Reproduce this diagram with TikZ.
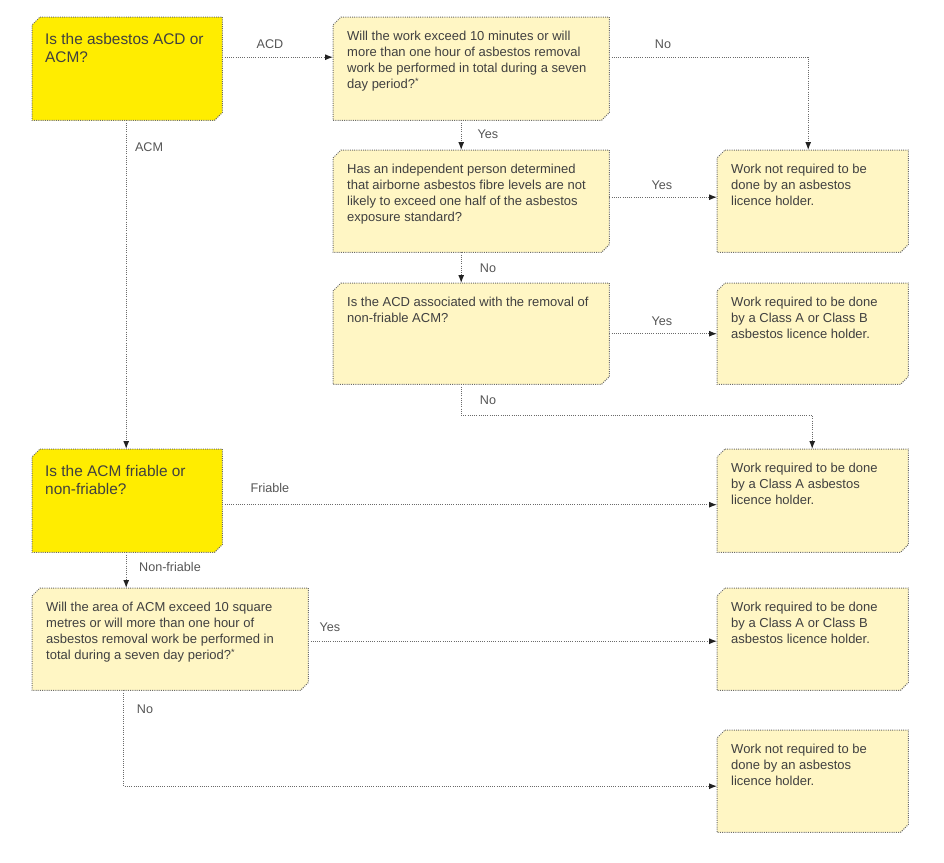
\documentclass[tikz,border=0pt]{standalone}
\usepackage{fontspec}
\setmainfont{Liberation Sans}
\usetikzlibrary{arrows.meta}
\definecolor{ybright}{HTML}{FFED00}
\definecolor{ypale}{HTML}{FFF6C4}
\definecolor{bord}{HTML}{6A6A6A}
\definecolor{txt}{HTML}{404040}
\definecolor{lbl}{HTML}{555555}
\definecolor{tipc}{HTML}{222222}
\newcommand\chbox[2]{%
  \path[boxline, fill=#2] ([xshift=8pt]#1.north west) -- (#1.north east)
    -- ([yshift=8pt]#1.south east) -- ([xshift=-8pt]#1.south east)
    -- (#1.south west) -- ([yshift=-8pt]#1.north west) -- cycle;}
\begin{document}
\begin{tikzpicture}[x=1pt,y=-1pt,
  cbox/.style={rectangle, inner sep=0pt, anchor=north west},
  boxline/.style={draw=bord, line width=1pt, dash pattern=on 1pt off 1.2pt},
  qtext/.style={anchor=base west, inner sep=0pt, text=txt, font=\fontsize{13}{16.2}\selectfont},
  htext/.style={anchor=base west, inner sep=0pt, text=txt, font=\fontsize{15.4}{18.5}\selectfont},
  lab/.style={inner sep=0pt, text=lbl, font=\fontsize{12.6}{15}\selectfont},
  conn/.style={draw=bord, line width=1pt, dash pattern=on 1pt off 1.2pt,
    -{Latex[length=8pt,width=6pt,color=tipc]}}
]
\useasboundingbox (0,0) rectangle (944,862);

% box frames (anchors)
\node[cbox, minimum width=190pt, minimum height=103pt] (b1) at (32,17) {};
\node[cbox, minimum width=276pt, minimum height=103pt] (b2) at (333,17) {};
\node[cbox, minimum width=276pt, minimum height=102pt] (b3) at (333,150) {};
\node[cbox, minimum width=276pt, minimum height=101pt] (b4) at (333,283) {};
\node[cbox, minimum width=191pt, minimum height=102pt] (b5) at (717,150) {};
\node[cbox, minimum width=191pt, minimum height=101pt] (b6) at (717,283) {};
\node[cbox, minimum width=191pt, minimum height=103pt] (b7) at (717,449) {};
\node[cbox, minimum width=190pt, minimum height=103pt] (b8) at (32,449) {};
\node[cbox, minimum width=276pt, minimum height=102pt] (b9) at (32,588) {};
\node[cbox, minimum width=191pt, minimum height=102pt] (b10) at (717,588) {};
\node[cbox, minimum width=191pt, minimum height=102pt] (b11) at (717,730) {};

% chamfered boxes
\chbox{b1}{ybright}
\chbox{b2}{ypale}
\chbox{b3}{ypale}
\chbox{b4}{ypale}
\chbox{b5}{ypale}
\chbox{b6}{ypale}
\chbox{b7}{ypale}
\chbox{b8}{ybright}
\chbox{b9}{ypale}
\chbox{b10}{ypale}
\chbox{b11}{ypale}

% texts
\node[htext] (t1) at ([shift={(13,27)}]b1.north west) {\parbox[t]{180pt}{\raggedright Is the asbestos ACD or\\ACM?}};
\node[qtext] (t2) at ([shift={(14,23)}]b2.north west) {\parbox[t]{270pt}{\raggedright Will the work exceed 10 minutes or will\\more than one hour of asbestos removal\\work be performed in total during a seven\\day period?\textsuperscript{*}}};
\node[qtext] (t3) at ([shift={(14,23)}]b3.north west) {\parbox[t]{270pt}{\raggedright Has an independent person determined\\that airborne asbestos fibre levels are not\\likely to exceed one half of the asbestos\\exposure standard?}};
\node[qtext] (t4) at ([shift={(14,23)}]b4.north west) {\parbox[t]{270pt}{\raggedright Is the ACD associated with the removal of\\non-friable ACM?}};
\node[qtext] (t5) at ([shift={(14,23)}]b5.north west) {\parbox[t]{185pt}{\raggedright Work not required to be\\done by an asbestos\\licence holder.}};
\node[qtext] (t6) at ([shift={(14,23)}]b6.north west) {\parbox[t]{185pt}{\raggedright Work required to be done\\by a Class A or Class B\\asbestos licence holder.}};
\node[qtext] (t7) at ([shift={(14,23)}]b7.north west) {\parbox[t]{185pt}{\raggedright Work required to be done\\by a Class A asbestos\\licence holder.}};
\node[htext] (t8) at ([shift={(13,27)}]b8.north west) {\parbox[t]{180pt}{\raggedright Is the ACM friable or\\non-friable?}};
\node[qtext] (t9) at ([shift={(14,23)}]b9.north west) {\parbox[t]{270pt}{\raggedright Will the area of ACM exceed 10 square\\metres or will more than one hour of\\asbestos removal work be performed in\\total during a seven day period?\textsuperscript{*}}};
\node[qtext] (t10) at ([shift={(14,23)}]b10.north west) {\parbox[t]{185pt}{\raggedright Work required to be done\\by a Class A or Class B\\asbestos licence holder.}};
\node[qtext] (t11) at ([shift={(14,23)}]b11.north west) {\parbox[t]{185pt}{\raggedright Work not required to be\\done by an asbestos\\licence holder.}};

% connectors
\draw[conn] ([yshift=11.5pt]b1.east) -- ([yshift=11.5pt]b2.west);
\draw[conn] ([yshift=11.5pt]b2.east) -| ([xshift=-4.5pt]b5.north);
\draw[conn] ([xshift=-10pt]b2.south) -- ([xshift=-10pt]b3.north);
\draw[conn] ([yshift=4pt]b3.east) -- ([yshift=4pt]b5.west);
\draw[conn] ([xshift=-10pt]b3.south) -- ([xshift=-10pt]b4.north);
\draw[conn] (b4.east) -- (b6.west);
\draw[conn] ([xshift=-10pt]b4.south) -- ++(0,31) -| ([xshift=-0.5pt]b7.north);
\draw[conn] ([xshift=-1pt]b1.south) -- ([xshift=-1pt]b8.north);
\draw[conn] ([yshift=-4pt]b8.east) -- ([yshift=-4pt]b7.west);
\draw[conn] ([xshift=-1pt]b8.south) -- ([xshift=-1pt]b8.south |- b9.north);
\draw[conn] ([yshift=-2pt]b9.east) -- ([yshift=-2pt]b10.west);
\draw[conn] ([xshift=-46.5pt]b9.south) |- ([yshift=-5pt]b11.west);

% labels
\node[lab] (l1) at (270,44) {ACD};
\node[lab] (l2) at (663,44) {No};
\node[lab] (l3) at (488,134) {Yes};
\node[lab] (l4) at (662,185) {Yes};
\node[lab] (l5) at (488,268) {No};
\node[lab] (l6) at (662,321) {Yes};
\node[lab] (l7) at (488,400) {No};
\node[lab] (l8) at (149,147) {ACM};
\node[lab] (l9) at (270,488) {Friable};
\node[lab] (l10) at (170,567) {Non-friable};
\node[lab] (l11) at (330,627) {Yes};
\node[lab] (l12) at (145,709) {No};
\end{tikzpicture}
\end{document}
